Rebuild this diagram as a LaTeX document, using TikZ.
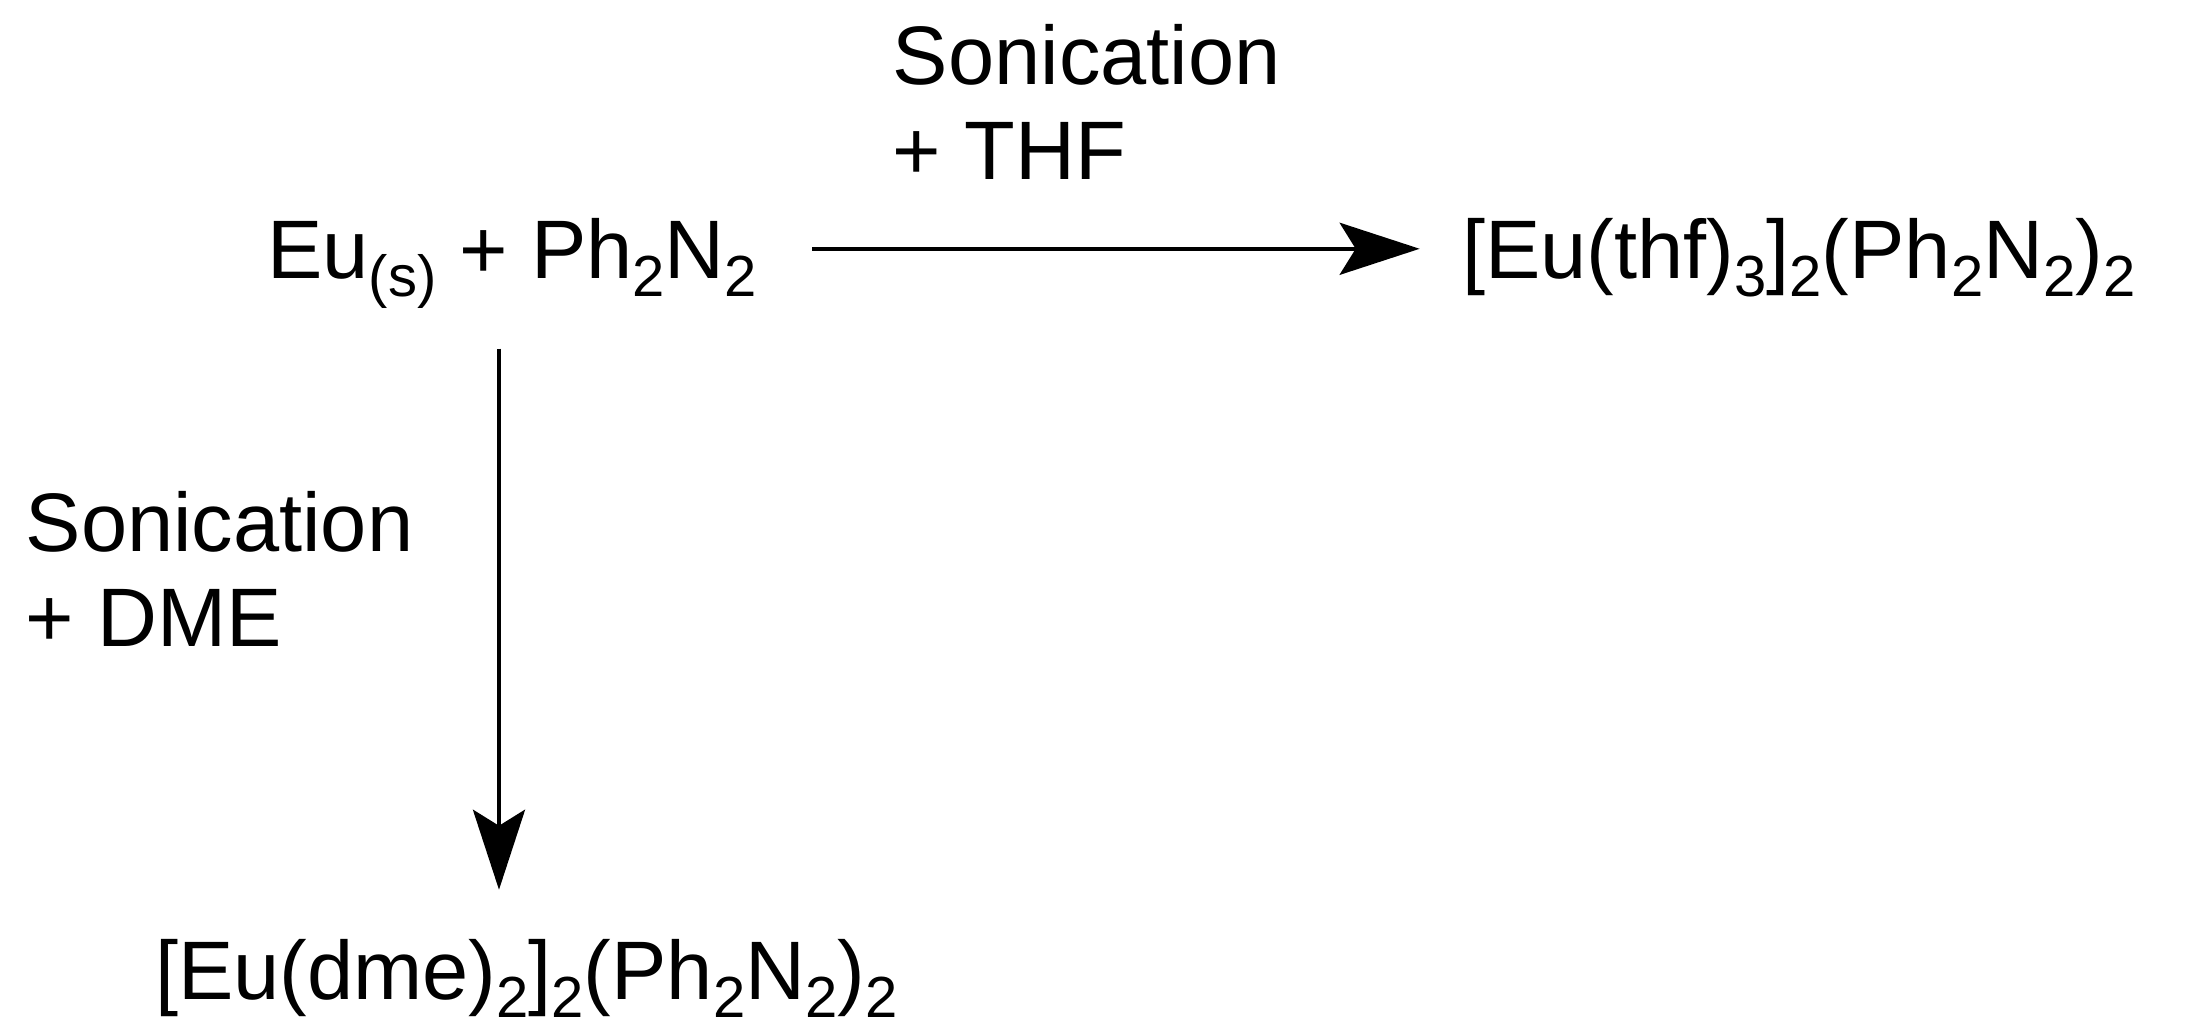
\documentclass[tikz,border=0pt]{standalone}
\usepackage{fontspec}
\setmainfont{Liberation Sans}
\usetikzlibrary{arrows.meta}
\newcommand{\sbx}[1]{\raisebox{-0.22em}{\fontsize{29}{32}\selectfont #1}}
\begin{document}
\begin{tikzpicture}[x=0.7028pt,y=-0.7028pt,
  txt/.style={inner sep=0pt,font=\fontsize{41.5}{46}\selectfont},
  rxn/.style={line width=2.1pt,-{Stealth[length=40pt,width=26pt,inset=8pt]}}]
\useasboundingbox (0,0) rectangle (1568,735);
\node[txt,anchor=base west] (eu) at (190,198) {Eu\sbx{(s)} + Ph\sbx{2}N\sbx{2}};
\node[txt,anchor=base west] (thf) at (1040,198) {[Eu(thf)\sbx{3}]\sbx{2}(Ph\sbx{2}N\sbx{2})\sbx{2}};
\node[txt,anchor=base west] (dme) at (110,711) {[Eu(dme)\sbx{2}]\sbx{2}(Ph\sbx{2}N\sbx{2})\sbx{2}};
\node[txt,anchor=base west] (l1) at (635,60) {Sonication};
\node[txt,anchor=base west] (l2) at (635,128) {+ THF};
\node[txt,anchor=base west] (l3) at (18,392) {Sonication};
\node[txt,anchor=base west] (l4) at (18,460) {+ DME};
\coordinate (a1) at (578,177);
\coordinate (a2) at (1010,177);
\coordinate (b1) at (355,248);
\coordinate (b2) at (355,633);
\draw[rxn] (a1) -- (a2);
\draw[rxn] (b1) -- (b2);
\end{tikzpicture}
\end{document}
